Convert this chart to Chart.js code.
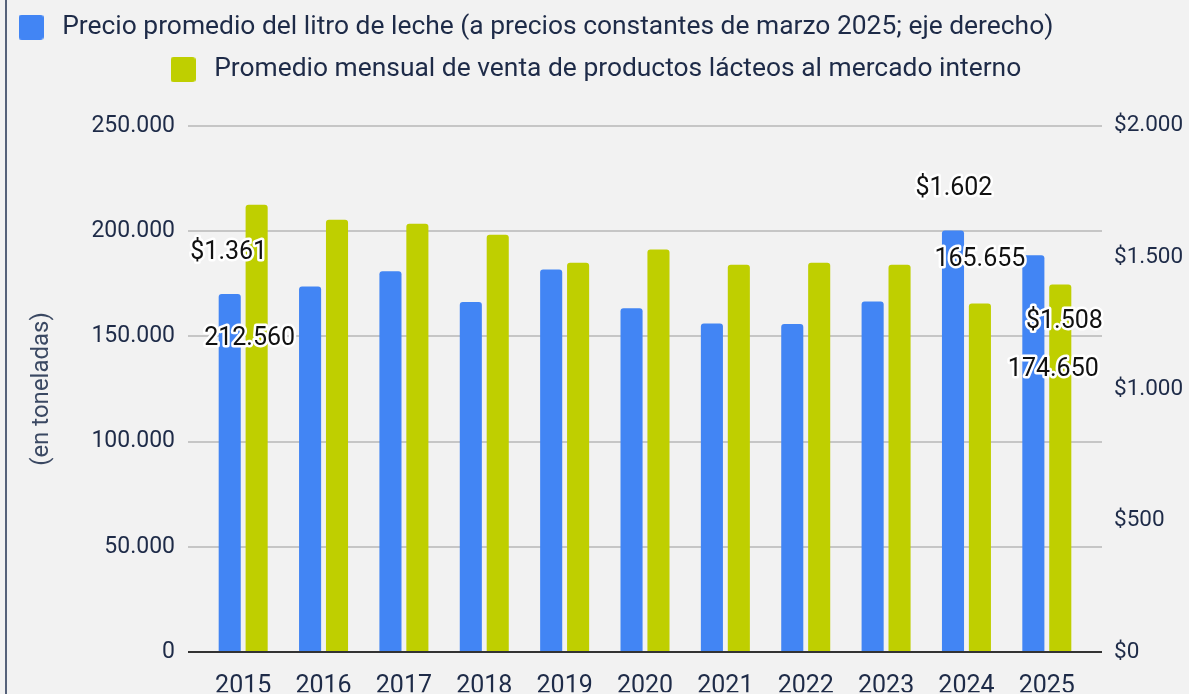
<!DOCTYPE html>
<html>
<head>
<meta charset="utf-8">
<script src="https://cdn.jsdelivr.net/npm/chart.js@4.4.1/dist/chart.umd.min.js"></script>
<style>
  html, body { margin: 0; padding: 0; background: #f2f2f2; }
  #wrap { position: relative; width: 1189px; height: 694px; overflow: hidden; }
  #borde { position: absolute; left: 5px; top: 0; width: 2px; height: 694px; background: #56627a; }
  #grafico { position: absolute; left: 0; top: 0; }
</style>
</head>
<body>
<div id="wrap">
  <div id="borde"></div>
  <canvas id="grafico" width="1189" height="694"></canvas>
</div>
<script>
const anios = ["2015", "2016", "2017", "2018", "2019", "2020", "2021", "2022", "2023", "2024", "2025"];
// precio del litro, $ constantes de marzo 2025 (eje derecho)
const precioLitro = [1361, 1389, 1447, 1331, 1454, 1307, 1249, 1247, 1332, 1602, 1508];
// toneladas por mes (eje izquierdo)
const ventaLacteos = [212560, 205400, 203500, 198300, 184900, 191300, 184000, 184900, 184000, 165655, 174650];
const ticksToneladas = [0, 50000, 100000, 150000, 200000, 250000];
const ticksPrecio = [0, 500, 1000, 1500, 2000];
const anotados = [0, 9, 10]; // años con etiqueta de valor

const AZUL = "#4285f4";
const VERDE = "#bfcf00";
const TEXTO = "#1e2b48";

function miles(n) {
  return String(Math.round(n)).replace(/\B(?=(\d{3})+(?!\d))/g, ".");
}

function cuadrito(color) {
  const c = document.createElement("canvas");
  c.width = 25; c.height = 25;
  const g = c.getContext("2d");
  g.fillStyle = color;
  g.beginPath();
  g.roundRect(0, 0, 25, 25, 3);
  g.fill();
  return c;
}

// desplazamiento de cada etiqueta respecto del tope de la barra
const desvios = [
  { 0: [-1, -41], 9: [1, -42], 10: [31, 66] },
  { 0: [-7, 134], 9: [0, -44], 10: [-7, 85] }
];

const extras = {
  id: "extras",
  afterLayout(chart) {
    // la leyenda original no centra las filas: la primera arranca casi en el borde
    const lg = chart.legend;
    const base = lg.left + lg.options.labels.padding + lg.right;
    lg.lineWidths[0] = base - 2 * 13;
    if (lg.lineWidths.length > 1) lg.lineWidths[1] = base - 2 * 165;
  },
  beforeDatasetsDraw(chart) {
    const { ctx, chartArea: a, scales: { y } } = chart;
    ctx.save();
    ctx.lineWidth = 2;
    ctx.strokeStyle = "#c6c6c6";
    y.ticks.forEach(t => {
      if (t.value === 0) return;
      const py = Math.round(y.getPixelForValue(t.value));
      ctx.beginPath();
      ctx.moveTo(a.left - 15, py);
      ctx.lineTo(a.right + 15, py);
      ctx.stroke();
    });
    ctx.restore();
  },
  afterDatasetsDraw(chart) {
    const { ctx, chartArea: a, scales: { y } } = chart;
    ctx.save();
    const py0 = Math.round(y.getPixelForValue(0));
    ctx.lineWidth = 2;
    ctx.strokeStyle = "#333333";
    ctx.beginPath();
    ctx.moveTo(a.left - 15, py0);
    ctx.lineTo(a.right + 15, py0);
    ctx.stroke();

    ctx.font = "25px Roboto";
    ctx.textAlign = "center";
    ctx.textBaseline = "middle";
    ctx.lineJoin = "round";
    chart.data.datasets.forEach((ds, di) => {
      const meta = chart.getDatasetMeta(di);
      anotados.forEach(i => {
        const el = meta.data[i];
        const [dx, dy] = desvios[di][i];
        const txt = (di === 0 ? "$" : "") + miles(ds.data[i]);
        ctx.lineWidth = 5;
        ctx.strokeStyle = "#ffffff";
        ctx.strokeText(txt, el.x + dx, el.y + dy);
        ctx.fillStyle = "#111111";
        ctx.fillText(txt, el.x + dx, el.y + dy);
      });
    });
    ctx.restore();
  }
};

new Chart(document.getElementById("grafico"), {
  type: "bar",
  data: {
    labels: anios,
    datasets: [
      {
        label: "Precio promedio del litro de leche (a precios constantes de marzo 2025; eje derecho)",
        data: precioLitro,
        backgroundColor: AZUL,
        yAxisID: "y1"
      },
      {
        label: "Promedio mensual de venta de productos lácteos al mercado interno",
        data: ventaLacteos,
        backgroundColor: VERDE,
        yAxisID: "y"
      }
    ]
  },
  options: {
    responsive: false,
    animation: false,
    categoryPercentage: 0.67,
    barPercentage: 0.82,
    borderRadius: 3,
    layout: { padding: { top: -2, left: 0, right: 0, bottom: 0 } },
    plugins: {
      tooltip: { enabled: false },
      // titulo vacio: solo deja aire entre la leyenda y el grafico
      title: {
        display: true,
        text: "",
        weight: 500,
        font: { size: 10 },
        padding: { top: 0, bottom: 21 }
      },
      legend: {
        position: "top",
        labels: {
          usePointStyle: true,
          pointStyleWidth: 36,
          padding: 16,
          color: TEXTO,
          font: { family: "Roboto", size: 26.4 },
          generateLabels(chart) {
            const items = Chart.defaults.plugins.legend.labels.generateLabels(chart);
            items.forEach((it, k) => { it.pointStyle = cuadrito(k === 0 ? AZUL : VERDE); });
            return items;
          }
        }
      }
    },
    scales: {
      x: {
        grid: { display: false },
        border: { display: false },
        ticks: { color: TEXTO, font: { family: "Roboto", size: 25 }, padding: 12 },
        afterFit(s) { s.height = 40; }
      },
      y: {
        position: "left",
        min: 0,
        max: 250000,
        grid: { display: false, drawTicks: false },
        border: { display: false },
        afterBuildTicks(s) { s.ticks = ticksToneladas.map(v => ({ value: v })); },
        ticks: { color: TEXTO, font: { family: "Roboto", size: 23 }, padding: 28, callback: v => miles(v) },
        title: {
          display: true,
          text: "(en toneladas)",
          color: "#3a4862",
          font: { family: "Roboto", size: 24 },
          padding: { top: 28, bottom: 0 }
        },
        afterFit(s) { s.width = 203; }
      },
      y1: {
        position: "right",
        min: 0,
        max: 2000,
        grid: { display: false, drawTicks: false },
        border: { display: false },
        afterBuildTicks(s) { s.ticks = ticksPrecio.map(v => ({ value: v })); },
        ticks: { color: TEXTO, font: { family: "Roboto", size: 22.5 }, padding: 27, callback: v => "$" + miles(v) },
        afterFit(s) { s.width = 102; }
      }
    }
  },
  plugins: [extras]
});
</script>
</body>
</html>
